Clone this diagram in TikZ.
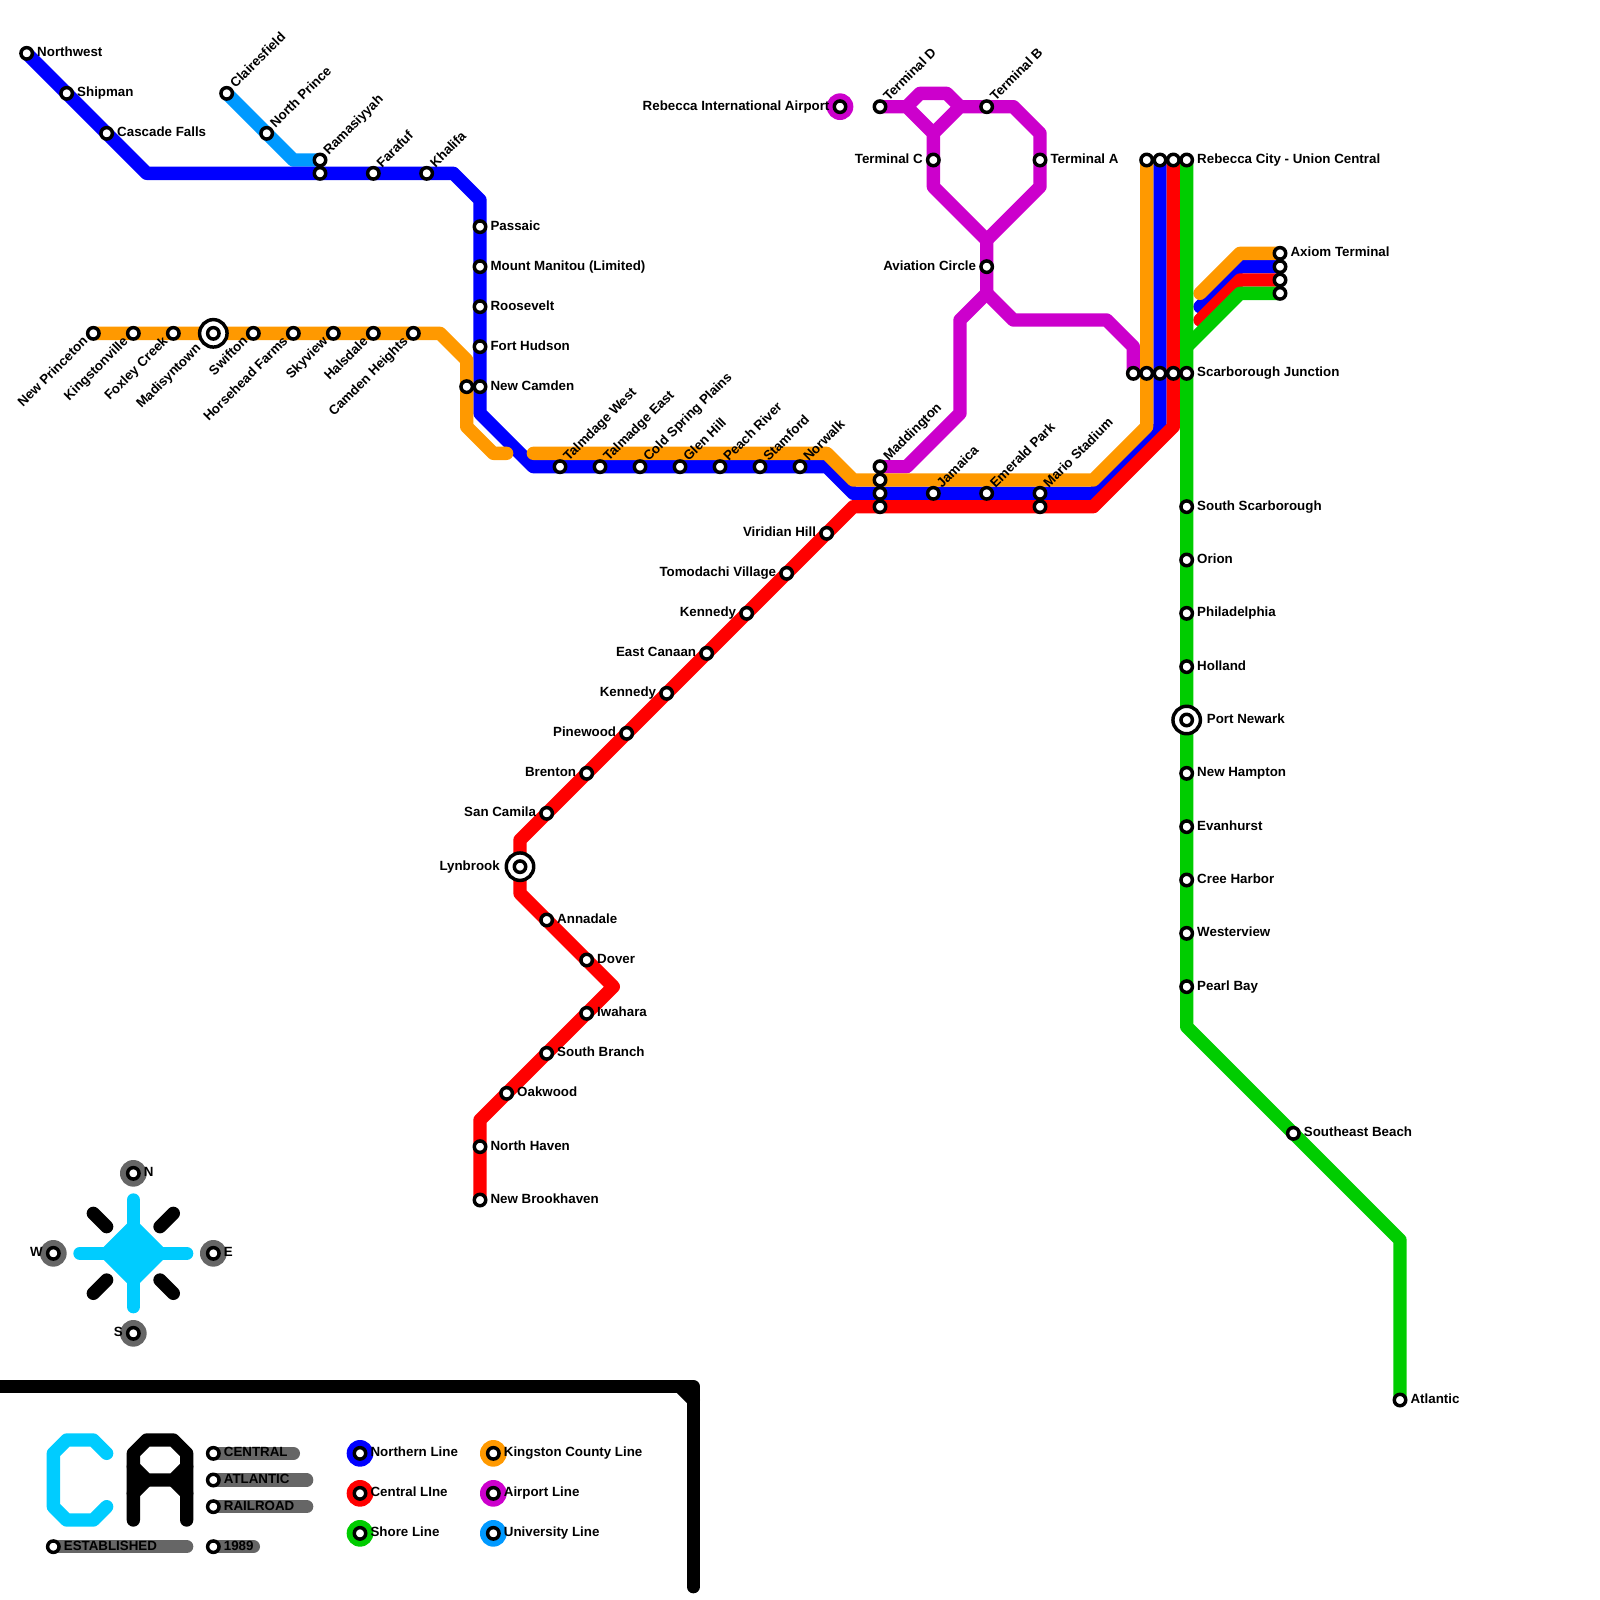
\documentclass[tikz,border=0pt]{standalone}
\usepackage{fontspec}
\setmainfont{Liberation Sans}
\usetikzlibrary{backgrounds}
\definecolor{northern}{HTML}{0000FF}
\definecolor{kingston}{HTML}{FF9900}
\definecolor{central}{HTML}{FF0000}
\definecolor{shore}{HTML}{00CC00}
\definecolor{airport}{HTML}{CC00CC}
\definecolor{university}{HTML}{0099FF}
\definecolor{compasscyan}{HTML}{00CCFF}
\definecolor{legendgray}{HTML}{666666}
\begin{document}
\begin{tikzpicture}[x=0.4cm,y=-0.4cm,
  font=\fontsize{11.38}{13}\selectfont\bfseries,
  track/.style={draw=#1,line width=0.4cm,line cap=round,line join=round},
  stn/.style={circle,draw=black,fill=white,line width=2.96pt,minimum size=0.344cm,inner sep=0pt,outer sep=0pt},
  hub/.style={circle,draw=black,fill=white,line width=2.96pt,minimum size=0.824cm,inner sep=0pt,outer sep=0pt},
  disc/.style={circle,fill=#1,minimum size=0.8cm,inner sep=0pt,outer sep=0pt},
  labr/.style={anchor=base west,inner sep=0pt,xshift=0.31cm,yshift=-0.1cm},
  labl/.style={anchor=base east,inner sep=0pt,xshift=-0.31cm,yshift=-0.1cm},
  labrx/.style={anchor=base west,inner sep=0pt,xshift=0.6cm,yshift=-0.1cm},
  lablx/.style={anchor=base east,inner sep=0pt,xshift=-0.6cm,yshift=-0.1cm},
  labne/.style={anchor=base west,inner sep=0pt,xshift=0.26cm,yshift=0.14cm,rotate=45},
  labsw/.style={anchor=base east,inner sep=0pt,xshift=-0.14cm,yshift=-0.26cm,rotate=45}]
\useasboundingbox (0,0) rectangle (120,120);
\node[stn] (northwest) at (2,4) {};
\node[labr] (northwestl) at (northwest) {Northwest};
\node[stn] (shipman) at (5,7) {};
\node[labr] (shipmanl) at (shipman) {Shipman};
\node[stn] (cascade) at (8,10) {};
\node[labr] (cascadel) at (cascade) {Cascade Falls};
\node[stn] (claires) at (17,7) {};
\node[labne] (clairesl) at (claires) {Clairesfield};
\node[stn] (nprince) at (20,10) {};
\node[labne] (nprincel) at (nprince) {North Prince};
\node[stn] (ramasu) at (24,12) {};
\node[labne] (ramasl) at (ramasu) {Ramasiyyah};
\node[stn] (ramasn) at (24,13) {};
\node[stn] (farafuf) at (28,13) {};
\node[labne] (farafufl) at (farafuf) {Farafuf};
\node[stn] (khalifa) at (32,13) {};
\node[labne] (khalifal) at (khalifa) {Khalifa};
\node[stn] (passaic) at (36,17) {};
\node[labr] (passaicl) at (passaic) {Passaic};
\node[stn] (manitou) at (36,20) {};
\node[labr] (manitoul) at (manitou) {Mount Manitou (Limited)};
\node[stn] (roosevelt) at (36,23) {};
\node[labr] (rooseveltl) at (roosevelt) {Roosevelt};
\node[stn] (hudson) at (36,26) {};
\node[labr] (hudsonl) at (hudson) {Fort Hudson};
\node[stn] (camdenk) at (35,29) {};
\node[stn] (camdenn) at (36,29) {};
\node[labr] (camdenl) at (camdenn) {New Camden};
\node[stn] (nprinceton) at (7,25) {};
\node[labsw] (nprincetonl) at (nprinceton) {New Princeton};
\node[stn] (kingston1) at (10,25) {};
\node[labsw] (kingston1l) at (kingston1) {Kingstonville};
\node[stn] (foxley) at (13,25) {};
\node[labsw] (foxleyl) at (foxley) {Foxley Creek};
\node[hub] (madishub) at (16,25) {};
\node[stn] (madis) at (16,25) {};
\node[labsw,xshift=-0.3cm] (madisl) at (madis) {Madisyntown};
\node[stn] (swifton) at (19,25) {};
\node[labsw] (swiftonl) at (swifton) {Swifton};
\node[stn] (horsehead) at (22,25) {};
\node[labsw] (horseheadl) at (horsehead) {Horsehead Farms};
\node[stn] (skyview) at (25,25) {};
\node[labsw] (skyviewl) at (skyview) {Skyview};
\node[stn] (halsdale) at (28,25) {};
\node[labsw] (halsdalel) at (halsdale) {Halsdale};
\node[stn] (heights) at (31,25) {};
\node[labsw] (heightsl) at (heights) {Camden Heights};
\node[stn] (twest) at (42,35) {};
\node[labne] (twestl) at (twest) {Talmdage West};
\node[stn] (teast) at (45,35) {};
\node[labne] (teastl) at (teast) {Talmadge East};
\node[stn] (coldspring) at (48,35) {};
\node[labne] (coldspringl) at (coldspring) {Cold Spring Plains};
\node[stn] (glenhill) at (51,35) {};
\node[labne] (glenhilll) at (glenhill) {Glen Hill};
\node[stn] (peach) at (54,35) {};
\node[labne] (peachl) at (peach) {Peach River};
\node[stn] (stamford) at (57,35) {};
\node[labne] (stamfordl) at (stamford) {Stamford};
\node[stn] (norwalk) at (60,35) {};
\node[labne] (norwalkl) at (norwalk) {Norwalk};
\node[stn] (maddp) at (66,35) {};
\node[labne] (maddl) at (maddp) {Maddington};
\node[stn] (maddk) at (66,36) {};
\node[stn] (maddn) at (66,37) {};
\node[stn] (maddc) at (66,38) {};
\node[stn] (jamaica) at (70,37) {};
\node[labne] (jamaical) at (jamaica) {Jamaica};
\node[stn] (emerald) at (74,37) {};
\node[labne] (emeraldl) at (emerald) {Emerald Park};
\node[stn] (marion) at (78,37) {};
\node[labne] (mariol) at (marion) {Mario Stadium};
\node[stn] (marioc) at (78,38) {};
\node[disc=airport] (airportdisc) at (63,8) {};
\node[stn] (rebairport) at (63,8) {};
\node[labl] (rebairportl) at (rebairport) {Rebecca International Airport};
\node[stn] (termd) at (66,8) {};
\node[labne] (termdl) at (termd) {Terminal D};
\node[stn] (termb) at (74,8) {};
\node[labne] (termbl) at (termb) {Terminal B};
\node[stn] (termc) at (70,12) {};
\node[labl] (termcl) at (termc) {Terminal C};
\node[stn] (terma) at (78,12) {};
\node[labr] (termal) at (terma) {Terminal A};
\node[stn] (aviation) at (74,20) {};
\node[labl] (aviationl) at (aviation) {Aviation Circle};
\node[stn] (rebk) at (86,12) {};
\node[stn] (rebn) at (87,12) {};
\node[stn] (rebc) at (88,12) {};
\node[stn] (rebs) at (89,12) {};
\node[labr] (rebl) at (rebs) {Rebecca City - Union Central};
\node[stn] (scarp) at (85,28) {};
\node[stn] (scark) at (86,28) {};
\node[stn] (scarn) at (87,28) {};
\node[stn] (scarc) at (88,28) {};
\node[stn] (scars) at (89,28) {};
\node[labr] (scarl) at (scars) {Scarborough Junction};
\node[stn] (axiomk) at (96,19) {};
\node[labr] (axioml) at (axiomk) {Axiom Terminal};
\node[stn] (axiomn) at (96,20) {};
\node[stn] (axiomc) at (96,21) {};
\node[stn] (axioms) at (96,22) {};
\node[stn] (sscar) at (89,38) {};
\node[labr] (sscarl) at (sscar) {South Scarborough};
\node[stn] (orion) at (89,42) {};
\node[labr] (orionl) at (orion) {Orion};
\node[stn] (phila) at (89,46) {};
\node[labr] (philal) at (phila) {Philadelphia};
\node[stn] (holland) at (89,50) {};
\node[labr] (hollandl) at (holland) {Holland};
\node[hub] (newarkhub) at (89,54) {};
\node[stn] (newark) at (89,54) {};
\node[labrx] (newarkl) at (newark) {Port Newark};
\node[stn] (hampton) at (89,58) {};
\node[labr] (hamptonl) at (hampton) {New Hampton};
\node[stn] (evanhurst) at (89,62) {};
\node[labr] (evanhurstl) at (evanhurst) {Evanhurst};
\node[stn] (cree) at (89,66) {};
\node[labr] (creel) at (cree) {Cree Harbor};
\node[stn] (westerview) at (89,70) {};
\node[labr] (westerviewl) at (westerview) {Westerview};
\node[stn] (pearl) at (89,74) {};
\node[labr] (pearll) at (pearl) {Pearl Bay};
\node[stn] (sebeach) at (97,85) {};
\node[labr] (sebeachl) at (sebeach) {Southeast Beach};
\node[stn] (atlantic) at (105,105) {};
\node[labr] (atlanticl) at (atlantic) {Atlantic};
\node[stn] (viridian) at (62,40) {};
\node[labl] (viridianl) at (viridian) {Viridian Hill};
\node[stn] (tomodachi) at (59,43) {};
\node[labl] (tomodachil) at (tomodachi) {Tomodachi Village};
\node[stn] (kennedyu) at (56,46) {};
\node[labl] (kennedyul) at (kennedyu) {Kennedy};
\node[stn] (canaan) at (53,49) {};
\node[labl] (canaanl) at (canaan) {East Canaan};
\node[stn] (kennedyd) at (50,52) {};
\node[labl] (kennedydl) at (kennedyd) {Kennedy};
\node[stn] (pinewood) at (47,55) {};
\node[labl] (pinewoodl) at (pinewood) {Pinewood};
\node[stn] (brenton) at (44,58) {};
\node[labl] (brentonl) at (brenton) {Brenton};
\node[stn] (camila) at (41,61) {};
\node[labl] (camilal) at (camila) {San Camila};
\node[hub] (lynhub) at (39,65) {};
\node[stn] (lynbrook) at (39,65) {};
\node[lablx] (lynbrookl) at (lynbrook) {Lynbrook};
\node[stn] (annadale) at (41,69) {};
\node[labr] (annadalel) at (annadale) {Annadale};
\node[stn] (dover) at (44,72) {};
\node[labr] (doverl) at (dover) {Dover};
\node[stn] (iwahara) at (44,76) {};
\node[labr] (iwaharal) at (iwahara) {Iwahara};
\node[stn] (sbranch) at (41,79) {};
\node[labr] (sbranchl) at (sbranch) {South Branch};
\node[stn] (oakwood) at (38,82) {};
\node[labr] (oakwoodl) at (oakwood) {Oakwood};
\node[stn] (nhaven) at (36,86) {};
\node[labr] (nhavenl) at (nhaven) {North Haven};
\node[stn] (brookhaven) at (36,90) {};
\node[labr] (brookhavenl) at (brookhaven) {New Brookhaven};
\node[disc=legendgray] (ndisc) at (10,88) {};
\node[stn] (north) at (10,88) {};
\node[labr] (northl) at (north) {N};
\node[disc=legendgray] (sdisc) at (10,100) {};
\node[stn] (south) at (10,100) {};
\node[labl] (southl) at (south) {S};
\node[disc=legendgray] (wdisc) at (4,94) {};
\node[stn] (west) at (4,94) {};
\node[labl] (westl) at (west) {W};
\node[disc=legendgray] (edisc) at (16,94) {};
\node[stn] (east) at (16,94) {};
\node[labr] (eastl) at (east) {E};
\node[stn] (central1) at (16,109) {};
\node[labr] (central1l) at (central1) {CENTRAL};
\node[stn] (atlantic1) at (16,111) {};
\node[labr] (atlantic1l) at (atlantic1) {ATLANTIC};
\node[stn] (railroad) at (16,113) {};
\node[labr] (railroadl) at (railroad) {RAILROAD};
\node[stn] (established) at (4,116) {};
\node[labr] (establishedl) at (established) {ESTABLISHED};
\node[stn] (year) at (16,116) {};
\node[labr] (yearl) at (year) {1989};
\node[disc=northern] (legndisc) at (27,109) {};
\node[stn] (legn) at (27,109) {};
\node[labr] (legnl) at (legn) {Northern Line};
\node[disc=central] (legcdisc) at (27,112) {};
\node[stn] (legc) at (27,112) {};
\node[labr] (legcl) at (legc) {Central LIne};
\node[disc=shore] (legsdisc) at (27,115) {};
\node[stn] (legs) at (27,115) {};
\node[labr] (legsl) at (legs) {Shore Line};
\node[disc=kingston] (legkdisc) at (37,109) {};
\node[stn] (legk) at (37,109) {};
\node[labr] (legkl) at (legk) {Kingston County Line};
\node[disc=airport] (legadisc) at (37,112) {};
\node[stn] (lega) at (37,112) {};
\node[labr] (legal) at (lega) {Airport Line};
\node[disc=university] (legudisc) at (37,115) {};
\node[stn] (legu) at (37,115) {};
\node[labr] (legul) at (legu) {University Line};
\begin{scope}[on background layer]
\draw[track=university] (claires.center) -- (22,12) -- (ramasu.center);
\draw[track=airport] (termd.center) -- (68,8) -- (70,10) -- (72,8) -- (termb.center) -- (76,8) -- (78,10) -- (78,14) -- (74,18) -- (70,14) -- (70,10);
\draw[track=airport] (68,8) -- (69,7) -- (71,7) -- (72,8);
\draw[track=airport] (74,18) -- (74,22) -- (72,24) -- (72,31) -- (68,35) -- (maddp.center);
\draw[track=airport] (74,22) -- (76,24) -- (83,24) -- (85,26) -- (scarp.center);
\draw[track=northern] (northwest.center) -- (11,13) -- (34,13) -- (36,15) -- (36,31) -- (40,35) -- (62,35) -- (64,37) -- (82,37) -- (87,32) -- (rebn.center);
\draw[track=northern] (90,23) -- (93,20) -- (axiomn.center);
\draw[track=kingston] (nprinceton.center) -- (33,25) -- (35,27) -- (35,32) -- (37,34) -- (38,34);
\draw[track=kingston] (40,34) -- (62,34) -- (64,36) -- (82,36) -- (86,32) -- (rebk.center);
\draw[track=kingston] (90,22) -- (93,19) -- (axiomk.center);
\draw[track=central] (brookhaven.center) -- (36,84) -- (46,74) -- (39,67) -- (39,63) -- (64,38) -- (82,38) -- (88,32) -- (rebc.center);
\draw[track=central] (90,24) -- (93,21) -- (axiomc.center);
\draw[track=shore] (rebs.center) -- (89,77) -- (105,93) -- (atlantic.center);
\draw[track=shore] (89,26) -- (93,22) -- (axioms.center);
\draw[track=compasscyan,fill=compasscyan] (10,92) -- (12,94) -- (10,96) -- (8,94) -- cycle;
\draw[track=compasscyan] (10,90) -- (10,98);
\draw[track=compasscyan] (6,94) -- (14,94);
\draw[track=black] (7,91) -- (8,92);
\draw[track=black] (13,91) -- (12,92);
\draw[track=black] (7,97) -- (8,96);
\draw[track=black] (13,97) -- (12,96);
\draw[track=black] (0,104) -- (52,104) -- (52,119);
\draw[track=black] (51,104) -- (52,105);
\draw[track=compasscyan] (8,109) -- (7,108) -- (5,108) -- (4,109) -- (4,113) -- (5,114) -- (7,114) -- (8,113);
\draw[track=black] (10,114) -- (10,109) -- (11,108) -- (13,108) -- (14,109) -- (14,114);
\draw[track=black] (10,110) -- (11,111) -- (13,111) -- (14,110);
\draw[track=black] (10,112) -- (11,111);
\draw[track=black] (13,111) -- (14,112);
\draw[track=legendgray] (central1.center) -- (22,109);
\draw[track=legendgray] (atlantic1.center) -- (23,111);
\draw[track=legendgray] (railroad.center) -- (23,113);
\draw[track=legendgray] (established.center) -- (14,116);
\draw[track=legendgray] (year.center) -- (19,116);
\end{scope}
\end{tikzpicture}
\end{document}
